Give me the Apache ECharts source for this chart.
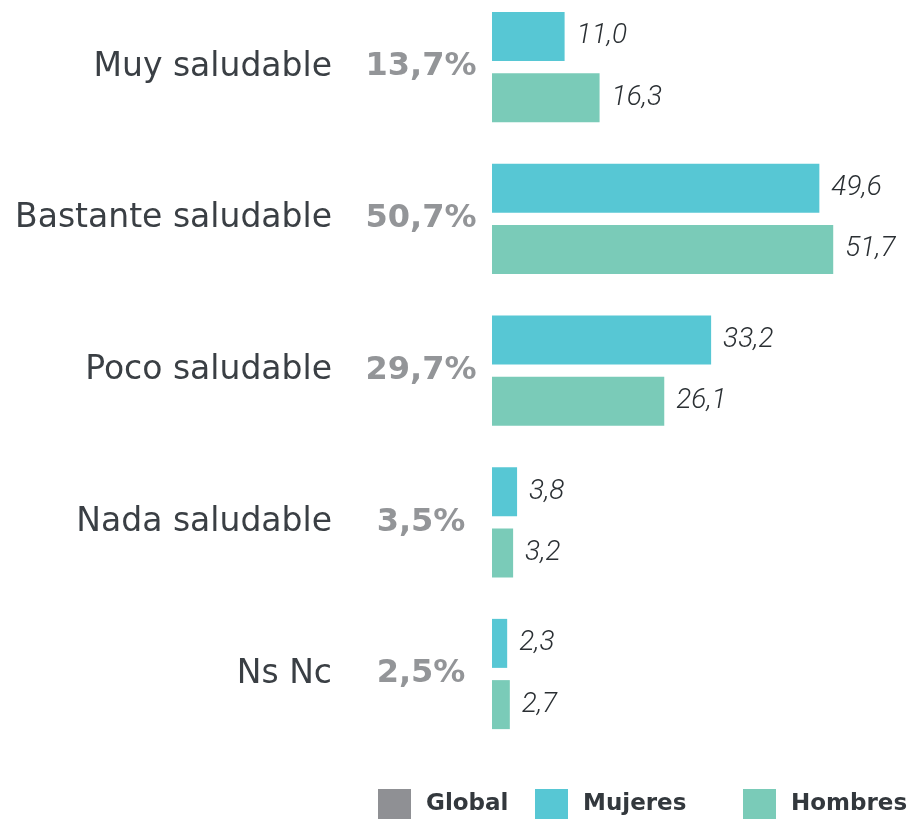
<!DOCTYPE html>
<html>
<head>
<meta charset="utf-8">
<script src="https://cdn.jsdelivr.net/npm/echarts@6/dist/echarts.min.js"></script>
<style>
  html, body { margin: 0; padding: 0; background: #fff; }
  #chart { width: 915px; height: 819px; }
</style>
</head>
<body>
<div id="chart"></div>
<script>
// datos
var categorias = ['Muy saludable', 'Bastante saludable', 'Poco saludable', 'Nada saludable', 'Ns Nc'];
var global = [13.7, 50.7, 29.7, 3.5, 2.5];
var mujeres = [11.0, 49.6, 33.2, 3.8, 2.3];
var hombres = [16.3, 51.7, 26.1, 3.2, 2.7];

function coma(v) { return v.toFixed(1).replace('.', ','); }

var myChart = echarts.init(document.getElementById('chart'));

// etiqueta de valor al final de cada barra
var etiqueta = {
    show: true,
    position: 'right',
    distance: 12,
    fontFamily: 'Roboto',
    fontStyle: 'italic',
    fontWeight: 300,
    fontSize: 28,
    color: '#2a2f33',
    formatter: function (p) { return coma(p.value); }
};

function leyenda(nombre, x) {
    return {
        data: [nombre],
        left: x,
        top: 789,
        padding: 0,
        itemWidth: 33,
        itemHeight: 31,
        itemGap: 0,
        icon: 'rect',
        selectedMode: false,
        textStyle: { fontFamily: 'DejaVu Sans', fontSize: 23, fontWeight: 'bold', color: '#33383d', padding: [0, 0, 0, 10] }
    };
}

var option = {
    animation: false,
    grid: { left: 492, right: 27, top: 67, bottom: 145 },
    legend: [leyenda('Global', 378), leyenda('Mujeres', 535), leyenda('Hombres', 743)],
    xAxis: { type: 'value', min: 0, max: 60, show: false },
    yAxis: {
        type: 'category',
        inverse: true,
        boundaryGap: false,
        data: categorias,
        axisLine: { show: false },
        axisTick: { show: false },
        axisLabel: {
            margin: 15,
            formatter: function (v, i) {
                return '{n|' + v + '}{p|' + coma(global[i]) + '%}';
            },
            rich: {
                n: { fontFamily: 'DejaVu Sans', fontSize: 33, color: '#3a3f44', padding: [0, 33, 0, 0] },
                p: { fontFamily: 'DejaVu Sans', fontSize: 32, fontWeight: 'bold', color: '#939598', width: 112, align: 'center' }
            }
        }
    },
    series: [
        { name: 'Global', type: 'bar', data: [], itemStyle: { color: '#8f9094' } },
        { name: 'Mujeres', type: 'bar', data: mujeres, barWidth: 49, barGap: '25%',
          itemStyle: { color: '#57c7d4' }, label: etiqueta },
        { name: 'Hombres', type: 'bar', data: hombres, barWidth: 49,
          itemStyle: { color: '#7acbb8' }, label: etiqueta }
    ]
};

myChart.setOption(option, true);
</script>
</body>
</html>
